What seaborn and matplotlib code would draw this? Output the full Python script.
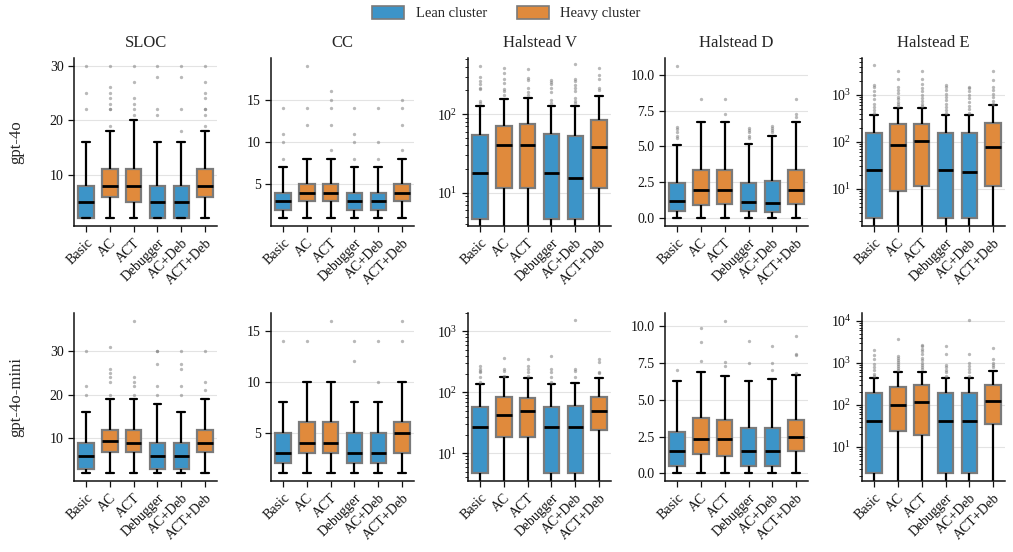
import numpy as np
import pandas as pd
import matplotlib
matplotlib.use("Agg")
import matplotlib.pyplot as plt
from matplotlib.patches import Patch
from matplotlib.ticker import MultipleLocator
import seaborn as sns

# ---------------- data ----------------
CATEGORIES = ["Basic", "AC", "ACT", "Debugger", "AC+Deb", "ACT+Deb"]
CLUSTERS = ["Lean cluster", "Heavy cluster", "Heavy cluster",
            "Lean cluster", "Lean cluster", "Heavy cluster"]
METRICS = ["SLOC", "CC", "Halstead V", "Halstead D", "Halstead E"]
MODELS = ["gpt-4o", "gpt-4o-mini"]
LOG_METRICS = ["Halstead V", "Halstead E"]
TICK_STEP = {"SLOC": 10, "CC": 5, "Halstead D": 2.5}

# five-number summaries per category: [whisker low, Q1, median, Q3, whisker high]
# and the outliers drawn above the whiskers
SLOC_4O = [[2, 2, 5, 8, 16], [2, 6, 8, 11, 18], [2, 5, 8, 11, 20],
           [2, 2, 5, 8, 16], [2, 2, 5, 8, 16], [2, 6, 8, 11, 18]]
SLOC_4O_OUT = [[22, 25, 30], [19, 22, 22, 23, 24, 25, 26, 30], [21, 22, 23, 24, 27, 30],
               [21, 22, 28, 30], [18, 22, 28, 30], [19, 21, 22, 22, 24, 25, 27, 30]]

CC_4O = [[1, 2, 3, 4, 7], [1, 3, 4, 5, 8], [1, 3, 4, 5, 8],
         [1, 2, 3, 4, 7], [1, 2, 3, 4, 7], [1, 3, 4, 5, 8]]
CC_4O_OUT = [[8, 10, 11, 14], [12, 14, 19], [9, 12, 14, 15, 16],
             [8, 10, 11, 14], [8, 10, 14], [9, 12, 14, 15]]

HV_4O = [[0, 4.7, 17.7, 54, 125], [0, 11.4, 40, 71, 155], [0, 11.4, 40, 74.5, 158],
         [0, 4.7, 17.7, 55.6, 127.6], [0, 4.7, 15.5, 53, 125], [0, 11.4, 38.3, 84.7, 170]]
HV_4O_OUT = [[140, 148, 210, 215, 240, 265, 295, 410],
             [175, 195, 210, 250, 280, 330, 390],
             [175, 190, 215, 270, 285, 375],
             [140, 150, 190, 215, 240, 255, 270],
             [140, 148, 160, 195, 215, 235, 260, 280, 435],
             [200, 215, 280, 310, 380]]

HD_4O = [[0, 0.48, 1.22, 2.49, 5.11], [0, 0.9, 2.0, 3.34, 6.73], [0, 1.01, 2.0, 3.34, 6.73],
         [0, 0.48, 1.13, 2.49, 5.16], [0, 0.45, 1.04, 2.6, 5.74], [0, 1.01, 2.0, 3.34, 6.73]]
HD_4O_OUT = [[5.6, 5.75, 6.0, 6.2, 6.35, 10.62], [8.33], [7.23, 8.33],
             [5.6, 5.75, 6.0, 6.15, 6.3], [6.0, 6.13, 6.27, 6.43], [7.05, 7.23, 8.33]]

HE_4O = [[0, 2.38, 25.4, 155, 369], [0, 8.8, 85, 234, 512], [0, 11.6, 101.6, 234, 512],
         [0, 2.38, 25.4, 155, 369], [0, 2.38, 22.7, 155, 369], [0, 11.6, 78, 254, 593]]
HE_4O_OUT = [[420, 480, 560, 650, 800, 1000, 1200, 1450, 1650, 4400],
             [590, 640, 700, 800, 900, 1100, 1250, 1500, 2200, 3200],
             [580, 650, 750, 850, 1000, 1200, 1400, 1700, 2200, 3200],
             [420, 480, 560, 650, 760, 900, 1050, 1250, 1450, 1650],
             [420, 500, 580, 700, 850, 1000, 1200, 1400, 1500],
             [650, 750, 900, 1050, 1250, 1500, 2100, 3200]]

SLOC_MINI = [[2, 3, 6, 9, 16], [2, 7, 9.5, 12, 19], [2, 7, 9, 12, 19],
             [2, 3, 6, 9, 18], [2, 3, 6, 9, 16], [2, 7, 9, 12, 19]]
SLOC_MINI_OUT = [[20, 22, 30], [20, 23, 24, 25, 26, 31], [20, 22, 23, 24, 37],
                 [20, 22, 27, 30, 30], [20, 22, 26, 27, 30], [21, 23, 30]]

CC_MINI = [[1, 2, 3, 5, 8], [1, 3, 4, 6, 10], [1, 3, 4, 6, 10],
           [1, 2, 3, 5, 8], [1, 2, 3, 5, 8], [1, 3, 5, 6, 10]]
CC_MINI_OUT = [[14], [14], [16], [12, 14], [10, 14], [14, 16]]

HV_MINI = [[0, 4.72, 26.8, 58, 136], [0, 18.5, 41.7, 83, 178], [0, 18.5, 49, 82, 171],
           [0, 4.72, 26.8, 58, 136], [0, 4.72, 26.8, 60, 142], [0, 23.7, 49, 84, 171]]
HV_MINI_OUT = [[146, 176, 212, 225, 240, 272], [185, 220, 240, 370],
               [187, 212, 240, 272, 350], [146, 176, 212, 240, 400],
               [180, 220, 240, 1510], [205, 215, 310, 350]]

HD_MINI = [[0, 0.5, 1.51, 2.82, 6.26], [0, 1.31, 2.34, 3.74, 6.91], [0, 1.15, 2.34, 3.6, 6.64],
           [0, 0.5, 1.51, 3.11, 6.28], [0, 0.5, 1.51, 3.11, 6.44], [0, 1.51, 2.45, 3.6, 6.69]]
HD_MINI_OUT = [[7.03], [7.61, 8.92, 9.91], [7.3, 7.57, 10.38],
               [7.5, 8.99], [7.05, 7.5, 8.67], [6.85, 8.02, 8.13, 9.35]]

HE_MINI = [[0, 2.36, 42.4, 190, 445], [0, 23.6, 102, 264, 620], [0, 19, 116, 294, 600],
           [0, 2.36, 42.4, 190, 445], [0, 2.36, 42.4, 190, 445], [0, 35.3, 124, 305, 645]]
HE_MINI_OUT = [[500, 560, 670, 800, 960, 1270, 1580, 2000],
               [680, 760, 850, 950, 1050, 1200, 1350, 1500, 3660],
               [720, 800, 900, 1000, 1150, 1350, 1600, 1900, 2200, 2500, 2700],
               [500, 600, 700, 800, 900, 1600, 2500],
               [500, 600, 720, 850, 1000, 1600, 10700],
               [800, 900, 1000, 1260, 2280]]

PANELS = {
    ("gpt-4o", "SLOC"): (SLOC_4O, SLOC_4O_OUT),
    ("gpt-4o", "CC"): (CC_4O, CC_4O_OUT),
    ("gpt-4o", "Halstead V"): (HV_4O, HV_4O_OUT),
    ("gpt-4o", "Halstead D"): (HD_4O, HD_4O_OUT),
    ("gpt-4o", "Halstead E"): (HE_4O, HE_4O_OUT),
    ("gpt-4o-mini", "SLOC"): (SLOC_MINI, SLOC_MINI_OUT),
    ("gpt-4o-mini", "CC"): (CC_MINI, CC_MINI_OUT),
    ("gpt-4o-mini", "Halstead V"): (HV_MINI, HV_MINI_OUT),
    ("gpt-4o-mini", "Halstead D"): (HD_MINI, HD_MINI_OUT),
    ("gpt-4o-mini", "Halstead E"): (HE_MINI, HE_MINI_OUT),
}

LOG_LIMITS = {
    ("gpt-4o", "Halstead V"): (3.8, 515),
    ("gpt-4o", "Halstead E"): (1.6, 6100),
    ("gpt-4o-mini", "Halstead V"): (3.5, 2000),
    ("gpt-4o-mini", "Halstead E"): (1.55, 15500),
}

PALETTE = {"Lean cluster": "#3C94C8", "Heavy cluster": "#E08A3C"}
EDGE = "#7a7a7a"


def sample_from_summary(summary, outliers):
    """Build a sample whose quartiles / whisker ends equal the summary."""
    m = len(outliers)
    k = 4 * m + 4
    vals = []
    for v in summary:
        vals.extend([v] * k)
    vals.extend(outliers)
    return vals


def panel_frame(summaries, outliers):
    rows = []
    for cat, cl, s, o in zip(CATEGORIES, CLUSTERS, summaries, outliers):
        for v in sample_from_summary(s, o):
            rows.append((cat, cl, v))
    return pd.DataFrame(rows, columns=["method", "cluster", "value"])


# ---------------- figure ----------------
sns.set_style("ticks")
plt.rcParams["font.family"] = ["Liberation Serif", "DejaVu Serif"]
plt.rcParams["mathtext.fontset"] = "custom"
plt.rcParams["mathtext.rm"] = "Liberation Serif"
plt.rcParams["mathtext.it"] = "Liberation Serif:italic"
plt.rcParams["axes.edgecolor"] = "#111111"
plt.rcParams["axes.linewidth"] = 1.1

fig, axes = plt.subplots(2, 5, figsize=(10.13, 5.52), dpi=100)
fig.subplots_adjust(left=0.0731, right=0.9922, top=0.8949, bottom=0.1286,
                    wspace=0.378, hspace=0.518)

for r, model in enumerate(MODELS):
    for c, metric in enumerate(METRICS):
        ax = axes[r, c]
        summ, outl = PANELS[(model, metric)]
        df = panel_frame(summ, outl)
        sns.boxplot(
            data=df, x="method", y="value", hue="cluster", order=CATEGORIES,
            hue_order=["Lean cluster", "Heavy cluster"], palette=PALETTE,
            dodge=False, width=0.65, saturation=1, legend=False, ax=ax,
            whis=1.5, fliersize=2.4,
            boxprops=dict(edgecolor=EDGE, linewidth=1.6),
            whiskerprops=dict(color="black", linewidth=1.6),
            capprops=dict(color="black", linewidth=1.6),
            medianprops=dict(color="black", linewidth=2.0),
            flierprops=dict(marker="o", markerfacecolor="#808080",
                            markeredgecolor="none", alpha=0.55),
        )
        if metric in LOG_METRICS:
            ax.set_yscale("log")
            ax.set_ylim(*LOG_LIMITS[(model, metric)])
        else:
            ax.yaxis.set_major_locator(MultipleLocator(TICK_STEP[metric]))
        ax.yaxis.grid(True, which="major", color="#e3e3e3", linewidth=0.8)
        ax.set_axisbelow(True)
        ax.set_xlabel("")
        ax.set_ylabel("")
        ax.tick_params(axis="both", which="major", labelsize=10, length=4,
                       width=0.9, colors="#111111")
        ax.tick_params(axis="y", which="minor", length=2.5, width=0.7)
        ax.set_xticks(range(len(CATEGORIES)))
        ax.set_xticklabels(CATEGORIES, rotation=45, ha="right",
                           rotation_mode="anchor", fontsize=10)
        if r == 0:
            ax.set_title(metric, fontsize=12, pad=8)
        sns.despine(ax=ax)

# row labels
for r, model in enumerate(MODELS):
    pos = axes[r, 0].get_position()
    fig.text(0.016, (pos.y0 + pos.y1) / 2, model, rotation=90,
             va="center", ha="center", fontsize=12)

handles = [Patch(facecolor=PALETTE[k], edgecolor=EDGE, linewidth=1.2, label=k)
           for k in ["Lean cluster", "Heavy cluster"]]
fig.legend(handles=handles, loc="upper center", bbox_to_anchor=(0.5, 1.013),
           ncol=2, frameon=False, fontsize=10.5, handlelength=2.2,
           handleheight=1.0, columnspacing=2.0)

fig.savefig("out.png", dpi=100)
